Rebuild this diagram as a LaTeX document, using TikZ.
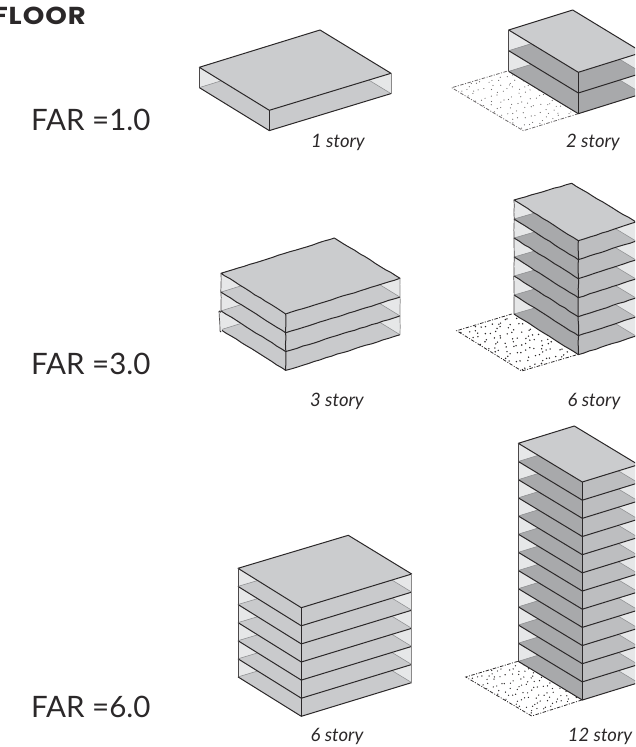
\documentclass[tikz,border=0pt]{standalone}
\usepackage{fontspec}
\setmainfont{Lato}
\newfontfamily\titlefont[LetterSpace=4,FakeStretch=1.12]{Poppins}
\usetikzlibrary{calc,decorations.pathmorphing}
\definecolor{inkc}{HTML}{2B2829}
\definecolor{topc}{HTML}{CBCCCE}
\definecolor{lightc}{HTML}{E6E7E8}
\definecolor{darkc}{HTML}{A8A9AB}
\definecolor{midc}{HTML}{BDBEC0}
\definecolor{softc}{HTML}{C9CACC}
\definecolor{backc}{HTML}{8F9092}
\tikzset{
  edge/.style={draw=inkc,line width=1pt,line join=round},
  thinedge/.style={draw=inkc!85,line width=0.7pt},
  backedge/.style={draw=backc,line width=0.55pt},
  farlabel/.style={inner sep=0pt,anchor=base west,font=\fontsize{29.5}{34}\selectfont,text=inkc},
  storylabel/.style={inner sep=0pt,anchor=base,font=\fontsize{18.5}{22}\selectfont\itshape,text=inkc},
  rough/.style={edge/.append style={decorate,decoration={random steps,segment length=6pt,amplitude=0.3pt}},
                thinedge/.append style={decorate,decoration={random steps,segment length=6pt,amplitude=0.25pt}}}
}
% #1 left #2 back #3 right #4 front (top face), #5 storey height, #6 storeys, #7 left colour, #8 right colour
\newcommand\bldg[8]{%
  \coordinate (bl) at (#1); \coordinate (bb) at (#2); \coordinate (br) at (#3); \coordinate (bf) at (#4);
  \coordinate (zz) at (0,800);
  \fill[lightc] (bl) -- (bb) -- (br) -- ($(br)+(0,{#6*#5})$) -- ($(bf)+(0,{#6*#5})$) -- ($(bl)+(0,{#6*#5})$) -- cycle;
  \foreach \k in {#6,...,1}{%
    \coordinate (kl) at ($(bl)+(0,{\k*#5})$);
    \coordinate (kb) at ($(bb)+(0,{\k*#5})$);
    \coordinate (kr) at ($(br)+(0,{\k*#5})$);
    \coordinate (kf) at ($(bf)+(0,{\k*#5})$);
    \fill[#8] (kl) -- (kb) -- (kr) -- (kf) -- cycle;
    \begin{scope}
      \clip (-50,-50) rectangle (bf|-zz);
      \fill[#7] (kl) -- (kb) -- (kr) -- (kf) -- cycle;
    \end{scope}
    \path[backedge] (kl) -- (kb) -- (kr);
    \path[edge] (kl) -- (kf) -- (kr);
  }
  \path[fill=topc] (bl) -- (bb) -- (br) -- (bf) -- cycle;
  \path[edge] (bl) -- (bb) -- (br) -- (bf) -- cycle;
  \path[thinedge] (bl) -- ($(bl)+(0,{#6*#5})$);
  \path[thinedge,draw=inkc!55] (br) -- ($(br)+(0,{#6*#5})$);
  \path[edge] (bf) -- ($(bf)+(0,{#6*#5})$);
}
% #1 left #2 back #3 building corner #4 front, #5 dot radius, #6 seed, #7 dot colour
\newcommand\ground[7]{%
  \coordinate (ga) at (#1); \coordinate (gb) at (#2); \coordinate (gc) at (#3); \coordinate (gd) at (#4);
  \path[draw=#7,line width=0.8pt,dash pattern=on 3.5pt off 1.5pt on 1pt off 1.5pt] (gc) -- (gd) -- (ga) -- (gb);
  \pgfmathsetseed{#6}
  \foreach \i in {0,...,11}{\foreach \j in {0,...,7}{%
    \pgfmathsetmacro\uu{(\i+0.15+0.7*rnd)/12}
    \pgfmathsetmacro\vv{(\j+0.15+0.7*rnd)/8}
    \fill[#7] ($($(ga)!\uu!(gb)$)!\vv!($(gd)!\uu!(gc)$)$) circle (#5);
  }}
}
\begin{document}
\begin{tikzpicture}[x=1pt,y=-1pt]
\useasboundingbox (0,0) rectangle (635,747);
\clip (0,0) rectangle (635,747);
% row 1
\bldg{199.3,67.3}{320,30}{391,73.3}{269.3,110.3}{20.3}{1}{softc}{softc}
\ground{451.7,87.7}{508.7,70.7}{578.3,113.7}{523.3,130.7}{0.6pt}{11}{inkc!70}
\bldg{508.7,30}{572.7,10}{642.3,52.3}{578.3,72.3}{20.7}{2}{darkc}{darkc}
% row 2
\begin{scope}[rough]
\bldg{221,273.3}{334.3,238}{400,278.3}{285.7,314}{18.8}{3}{softc}{softc}
% the bottom storey of this block stands a little proud on the left
\draw[lightc,line width=1pt] (221,312) -- (221,331);
\fill[lightc] (219,311) -- (221,312.3) -- (221,332) -- (220,331) -- cycle;
\path[edge] (219,311) -- (221,312.3);
\path[edge] (220,331) -- (221,332);
\path[thinedge] (219,311) -- (220,331);
\ground{456.7,330.7}{511.7,314}{576,355}{521.7,371}{0.8pt}{23}{inkc}
\bldg{514,200}{571.7,183.3}{636,222}{578.3,240.7}{19}{6}{darkc}{midc}
\end{scope}
% row 3
\bldg{238,568.3}{348.3,535.3}{411.7,574}{301.3,607.7}{18.1}{6}{softc}{softc}
\ground{465.7,677}{519,661}{581.7,700}{531.7,716}{0.7pt}{37}{inkc}
\bldg{518.3,443.3}{574.3,426}{638.3,464.7}{582.3,482}{18.17}{12}{darkc}{midc}
% labels
\node[inner sep=0pt,anchor=base east,font=\fontsize{24.5}{28}\titlefont\bfseries,text=inkc] (title) at (86,24) {FLOOR};
\node[farlabel] (far1) at (31,130) {FAR =1.0};
\node[farlabel] (far3) at (31,374) {FAR =3.0};
\node[farlabel] (far6) at (31,717) {FAR =6.0};
\node[storylabel] (s1) at (338,147) {1 story};
\node[storylabel] (s2) at (593,147) {2 story};
\node[storylabel] (s3) at (337,406) {3 story};
\node[storylabel] (s6a) at (594,406) {6 story};
\node[storylabel] (s6b) at (337,741) {6 story};
\node[storylabel] (s12) at (600,741) {12 story};
\end{tikzpicture}
\end{document}
